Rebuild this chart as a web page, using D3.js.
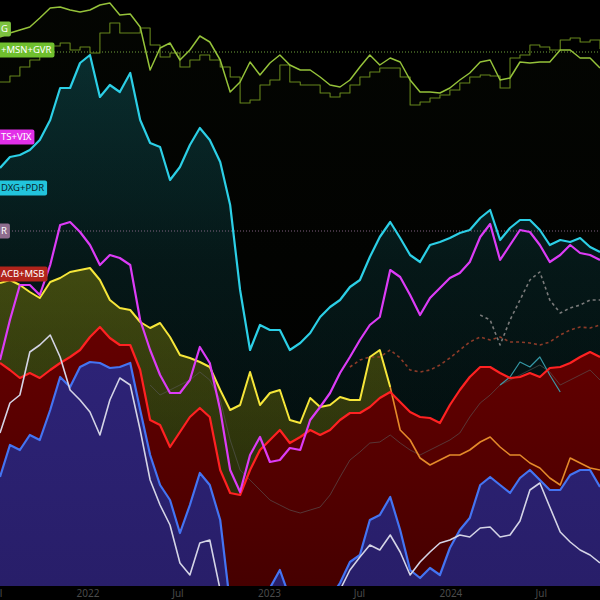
<!DOCTYPE html>
<html><head><meta charset="utf-8">
<script src="https://cdn.jsdelivr.net/npm/d3@7"></script>
<style>html,body{margin:0;padding:0;background:#000;}svg{display:block;}</style>
</head><body>
<script>
// ---------- DATA ----------
const startDate = new Date(2021, 6, 9);
const endDate = new Date(2024, 9, 28);
const sampleCount = 61;

const greenSmooth = [563,567,570,573,582,592,593,590,588,590,595,597,585,586,573,530,552,557,540,550,564,558,540,508,518,538,525,537,545,535,530,530,523,515,513,520,533,545,535,542,538,520,508,508,507,512,520,527,538,540,520,522,538,537,538,538,550,550,542,542,532];
const greenStep = [518,524,533,540,548,554,557,550,553,547,567,577,567,567,572,555,543,547,533,540,545,540,533,523,497,500,515,520,535,518,515,515,507,503,507,515,523,528,532,532,523,495,498,502,505,510,517,523,525,524,512,542,545,555,553,550,560,562,558,560,551];
const cyanSeries = [432,443,445,450,460,480,512,512,537,545,503,515,508,527,480,457,453,420,433,455,472,460,438,395,310,250,275,270,270,250,257,267,283,293,300,313,320,343,363,378,362,345,338,355,358,362,367,370,382,390,360,372,380,380,370,355,360,358,362,353,348];
const magentaSeries = [240,280,315,315,305,335,375,378,368,355,335,345,342,335,280,250,225,207,207,220,253,237,190,130,108,145,163,138,140,152,150,180,193,207,227,243,260,275,283,330,323,305,285,302,312,322,327,338,363,376,340,355,370,368,355,338,345,355,347,345,340];
const yellowSeries = [317,320,315,308,302,318,322,328,330,332,320,300,292,290,278,272,277,263,245,242,238,233,210,190,195,228,195,207,210,180,177,202,193,195,203,200,200,243,250,213,null,null,null,null,null,null,null,null,null,null,null,null,null,null,null,null,null,null,null,null,null];
const orangeSeries = [null,null,null,null,null,null,null,null,null,null,null,null,null,null,null,null,null,null,null,null,null,null,null,null,null,null,null,null,null,null,null,null,null,null,null,null,null,null,null,213,170,160,142,135,140,145,145,150,158,163,153,145,145,137,132,122,115,142,137,132,130];
const redSeries = [237,230,222,227,222,230,237,243,250,263,273,262,255,255,230,180,175,153,168,183,192,183,130,107,105,130,150,160,170,157,163,170,165,170,180,187,187,193,202,208,198,188,183,182,177,195,210,223,233,233,227,222,223,227,223,232,233,237,243,248,243];
const blueSeries = [123,155,150,165,160,190,223,213,233,238,237,232,233,237,190,145,115,100,67,95,127,115,80,-5,-5,-5,-5,12,30,2,-5,-5,-5,2,17,38,45,80,85,103,70,30,22,32,25,52,70,82,115,123,115,107,122,130,120,110,110,125,130,130,113];
const whiteSeries = [167,197,205,248,255,265,243,210,200,188,165,200,222,215,170,120,95,75,37,25,57,60,10,null,null,null,null,null,null,null,null,null,null,null,10,30,43,55,50,65,48,25,38,48,57,60,65,63,72,73,63,65,79,110,117,93,68,58,50,45,37];
const grayThin = [null,null,null,null,null,null,null,null,null,null,null,null,null,null,null,215,205,210,215,220,228,220,200,160,130,120,110,100,95,90,87,90,93,105,123,140,148,157,158,165,157,150,145,150,155,160,167,183,197,205,215,220,225,230,235,228,215,220,225,230,220];
const tealThin = [null,null,null,null,null,null,null,null,null,null,null,null,null,null,null,null,null,null,null,null,null,null,null,null,null,null,null,null,null,null,null,null,null,null,null,null,null,null,null,null,null,null,null,null,null,null,null,null,null,null,215,223,238,233,243,225,208,null,null,null,null];
const brownDashed = [null,null,null,null,null,null,null,null,null,null,null,null,null,null,null,null,null,null,null,null,null,null,null,null,null,null,null,null,null,null,null,null,null,null,null,233,240,243,243,250,242,230,228,230,235,242,250,258,263,260,263,258,258,257,255,258,265,270,273,272,275];
const grayDashed = [null,null,null,null,null,null,null,null,null,null,null,null,null,null,null,null,null,null,null,null,null,null,null,null,null,null,null,null,null,null,null,null,null,null,null,null,null,null,null,null,null,null,null,null,null,null,null,null,285,280,255,280,300,320,328,300,287,292,295,300,300];

const priceLineValues = [548, 369];
const labelTexts = ["G", "+MSN+GVR", "TS+VIX", "DXG+PDR", "R", "ACB+MSB"];
const labelValues = [571, 550, 463, 412, 369, 326];
const tickDates = [new Date(2021,6,1), new Date(2022,0,1), new Date(2022,6,1), new Date(2023,0,1), new Date(2023,6,1), new Date(2024,0,1), new Date(2024,6,1)];
const tickLabels = ["Jul", "2022", "Jul", "2023", "Jul", "2024", "Jul"];

// ---------- STYLE / LAYOUT ----------
const W = 600, H = 600, plotBottom = 586;
const baseValue = 14;
const labelStyles = [
  {bg:"#7cc23f", fg:"#ffffff"},
  {bg:"#6fbf2e", fg:"#ffffff"},
  {bg:"#e22fe8", fg:"#ffffff"},
  {bg:"#22c4dc", fg:"#0b1f2a"},
  {bg:"#8e6d8e", fg:"#ffffff"},
  {bg:"#b1241b", fg:"#ffffff"}
];

const spanDays = d3.timeDay.count(startDate, endDate);
const dates = d3.range(sampleCount).map(i => d3.timeDay.offset(startDate, Math.round(i * spanDays / (sampleCount - 1))));

const x = d3.scaleTime().domain([startDate, endDate]).range([0, W]);
const y = d3.scaleLinear().domain([baseValue, 600]).range([plotBottom, 0]);

const svg = d3.select("body").append("svg").attr("width", W).attr("height", H).style("background", "#000");
const defs = svg.append("defs");
defs.append("clipPath").attr("id", "plotclip").append("rect").attr("x", 0).attr("y", 0).attr("width", W).attr("height", plotBottom);

function grad(id, stops) {
  const g = defs.append("linearGradient").attr("id", id).attr("gradientUnits", "userSpaceOnUse")
    .attr("x1", 0).attr("y1", 0).attr("x2", 0).attr("y2", plotBottom);
  stops.forEach(s => g.append("stop").attr("offset", s[0]).attr("stop-color", s[1]).attr("stop-opacity", s[2]));
}
grad("gGreen", [[0, "#7cb342", 0.03], [1, "#7cb342", 0.0]]);
grad("gCyan", [[0.08, "#1fc0d0", 0.22], [0.45, "#1fc0d0", 0.11], [1, "#1fc0d0", 0.04]]);
grad("gYellow", [[0.4, "#c8bd00", 0.32], [1, "#a09600", 0.2]]);
grad("gRed", [[0.55, "#650000", 1], [1, "#460000", 1]]);
grad("gBlue", [[0.6, "#2d2377", 1], [1, "#281e69", 1]]);

const plot = svg.append("g").attr("clip-path", "url(#plotclip)");

function pts(arr) { return arr.map((v, i) => ({d: dates[i], v: v})); }
const lineGen = (curve) => d3.line().defined(p => p.v != null).x(p => x(p.d)).y(p => y(p.v)).curve(curve || d3.curveLinear);
const areaGen = d3.area().defined(p => p.v != null).x(p => x(p.d)).y0(y(baseValue)).y1(p => y(p.v));

// fills
[[greenSmooth, "url(#gGreen)"], [cyanSeries, "url(#gCyan)"], [yellowSeries, "url(#gYellow)"], [redSeries, "url(#gRed)"], [blueSeries, "url(#gBlue)"]]
  .forEach(([arr, f]) => plot.append("path").datum(pts(arr)).attr("d", areaGen).attr("fill", f));

// price lines
const plColors = ["#7cb342", "#8e6d8e"];
priceLineValues.forEach((v, i) => plot.append("line").attr("x1", 0).attr("x2", W).attr("y1", y(v)).attr("y2", y(v))
  .attr("stroke", plColors[i]).attr("stroke-width", 1).attr("stroke-dasharray", "1,2").attr("opacity", 0.9));

// lines
const lines = [
  [grayThin, "#5a5a5a", 1, null, null, 0.6],
  [tealThin, "#3aa6b6", 1.2, null, null, 0.9],
  [brownDashed, "#8c3b28", 1.6, "3,3", null, 1],
  [grayDashed, "#7a7a7a", 1.6, "3,3", null, 1],
  [greenStep, "#66861c", 1.1, null, d3.curveStepAfter, 1],
  [greenSmooth, "#95c23a", 1.5, null, null, 1],
  [orangeSeries, "#e48a2a", 1.6, null, null, 1],
  [yellowSeries, "#f6e63a", 2, null, null, 1],
  [redSeries, "#ff2222", 2.2, null, null, 1],
  [blueSeries, "#4474f2", 2.2, null, null, 1],
  [whiteSeries, "#d4d4e6", 1.6, null, null, 1],
  [magentaSeries, "#dc3cf6", 2.2, null, null, 1],
  [cyanSeries, "#2ccfe6", 2.2, null, null, 1]
];
lines.forEach(([arr, c, w, dash, curve, op]) => {
  const p = plot.append("path").datum(pts(arr)).attr("d", lineGen(curve)).attr("fill", "none")
    .attr("stroke", c).attr("stroke-width", w).attr("stroke-linejoin", "round").attr("opacity", op);
  if (dash) p.attr("stroke-dasharray", dash);
});

// x axis
const axis = svg.append("g").attr("transform", `translate(0,${plotBottom})`)
  .call(d3.axisBottom(x).tickValues(tickDates).tickSize(0).tickPadding(4).tickFormat((d, i) => tickLabels[i]));
axis.select(".domain").remove();
axis.selectAll("text").attr("fill", "#4a4a4a").style("font-family", "Noto Sans, sans-serif").style("font-size", "10px");

// left labels
const lab = svg.append("g");
labelTexts.forEach((t, i) => {
  const st = labelStyles[i];
  const g = lab.append("g").attr("transform", `translate(0,${y(labelValues[i])})`);
  const r = g.append("rect").attr("x", -20).attr("y", -7.5).attr("height", 15).attr("rx", 2).attr("fill", st.bg);
  const tx = g.append("text").attr("x", 1).attr("dy", "0.36em").attr("fill", st.fg)
    .style("font-family", "Noto Sans, sans-serif").style("font-size", "9.5px").text(t);
  r.attr("width", tx.node().getComputedTextLength() + 24);
});
</script>
</body></html>
